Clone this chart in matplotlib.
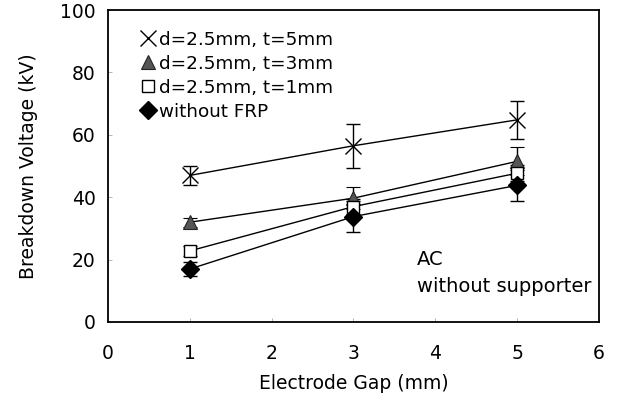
import numpy as np
import matplotlib.pyplot as plt
from matplotlib.lines import Line2D

plt.rcParams['font.family'] = ['DejaVu Sans']

# electrode gap (mm)
gap = [1, 3, 5]

# breakdown voltage (kV) and error bar half-widths
t5_mean = [47.0, 56.5, 64.8]
t5_err = [3.0, 7.0, 6.0]
t3_mean = [32.0, 39.7, 51.5]
t3_err = [1.5, 3.5, 4.5]
t1_mean = [22.8, 37.0, 47.7]
t1_err = [1.5, 2.5, 2.5]
nofrp_mean = [17.0, 33.8, 43.8]
nofrp_err = [2.3, 5.0, 5.0]

labels = ['d=2.5mm, t=5mm', 'd=2.5mm, t=3mm', 'd=2.5mm, t=1mm', 'without FRP']

xticks = [0, 1, 2, 3, 4, 5, 6]
yticks = [0, 20, 40, 60, 80, 100]

fig = plt.figure(figsize=(6.18, 4.03), dpi=100)
ax = fig.add_axes([0.175, 0.201, 0.794, 0.774])

styles = [
    dict(marker='x', ms=12, mfc='none', mec='black', mew=1.0),
    dict(marker='^', ms=10, mfc='#555555', mec='#222222', mew=0.8),
    dict(marker='s', ms=8.5, mfc='white', mec='black', mew=1.0),
    dict(marker='D', ms=9, mfc='black', mec='black', mew=1.0),
]
series = [(t5_mean, t5_err), (t3_mean, t3_err), (t1_mean, t1_err), (nofrp_mean, nofrp_err)]

for (m, e), st in zip(series, styles):
    ax.errorbar(gap, m, yerr=e, color='black', lw=1.0, elinewidth=1.0,
                capsize=5, capthick=1.0, **st)

ax.set_xlim(0, 6)
ax.set_ylim(0, 100)
ax.set_xticks(xticks)
ax.set_yticks(yticks)
ax.tick_params(direction='in', length=3, width=0.5, color='#999999',
               labelsize=13.5)
ax.tick_params(axis='x', pad=16)
ax.tick_params(axis='y', pad=9)
for s in ax.spines.values():
    s.set_linewidth(1.3)

ax.set_xlabel('Electrode Gap (mm)', fontsize=13.5, labelpad=8)
ax.set_ylabel('Breakdown Voltage (kV)', fontsize=13.5, labelpad=16)

# legend shows markers only
handles = [Line2D([], [], linestyle='none', **st) for st in styles]
ax.legend(handles, labels, loc='upper left', bbox_to_anchor=(0.05, 0.958),
          frameon=False, fontsize=13.2, handlelength=0.9, handletextpad=0.15,
          labelspacing=0.33, borderaxespad=0.0)

ax.text(0.63, 0.23, 'AC\nwithout supporter', transform=ax.transAxes,
        fontsize=14, va='top', ha='left', linespacing=1.5)

fig.savefig('out.png', dpi=100)
